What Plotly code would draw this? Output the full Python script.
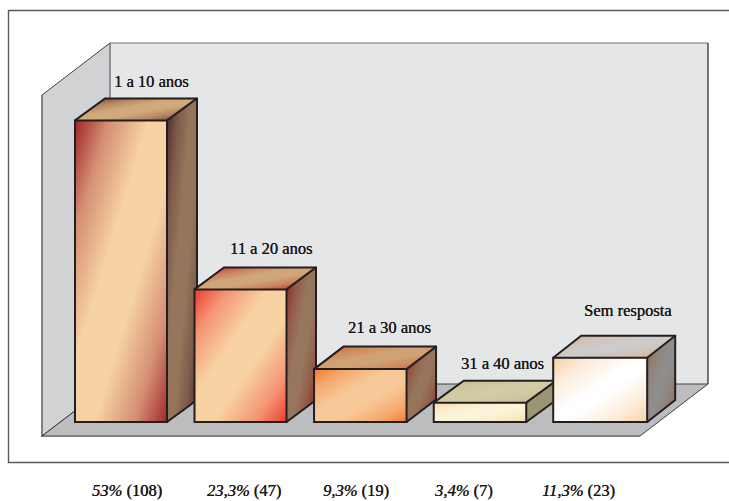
import numpy as np
import plotly.graph_objects as go

# Survey results: time bands, share of answers (%) and number of answers
CATEGORIES = ["1 a 10 anos", "11 a 20 anos", "21 a 30 anos", "31 a 40 anos", "Sem resposta"]
PERCENTS = [53, 23.3, 9.3, 3.4, 11.3]
COUNTS = [108, 47, 19, 7, 23]

# Drawing scale: pixels per category slot and per percentage point
SLOT_PX = 119.5
UNIT_PX = 5.69
ORIGIN_X = 121.0
ORIGIN_Y = 422.0
W, H = 729, 501


def X(px):
    return (px - ORIGIN_X) / SLOT_PX


def Y(py):
    return (ORIGIN_Y - py) / UNIT_PX


BAR_W = [92, 92, 92.5, 92.5, 94]
DEPTH_X = [30, 29.5, 29.5, 30, 28]
DEPTH_Y = [22, 22, 22.5, 22, 22]
BAR_NUDGE = [0, 0, 0.3, 0.5, 1.2]
LABEL_NUDGE = [(30, 17), (30.5, 19), (29, 19), (23, 17), (28.5, 25)]
FOOT_X = [127, 244, 356, 463, 578]

# Shading per bar: (edge colour, middle colour)
FRONT = [("#A0262A", "#F7D3A3"), ("#EF3A30", "#F7D2A2"), ("#F47A30", "#F7C998"),
         ("#F8DCA8", "#FBF4D8"), ("#F8CFA3", "#FFFFFF")]
SIDE = [("#54302E", "#96765B"), ("#8E2E28", "#96775C"), ("#92423A", "#96755A"),
        ("#9A9572", "#9A9572"), ("#957361", "#8E8E8E")]
TOP = [("#8A5540", "#D2A97B"), ("#C8463A", "#CFA67A"), ("#D0703E", "#CFA274"),
       ("#C9BC8E", "#D1CBA6"), ("#D8B59C", "#CCCCCC")]
BAND = [(0.4, 0.6), (0.4, 0.6), (0.4, 0.6), (0.42, 0.58), (0.46, 0.56)]

INK = "#231F20"
GREY_LINE = "#808285"
LABEL_FONT = dict(family="Liberation Serif", size=16.5, color="#1A1718",
                  shadow="0.3px 0 0 #1A1718")

fig = go.Figure()


def poly(xs, ys, color):
    fig.add_trace(go.Scatter(x=xs, y=ys, fill="toself", fillcolor=color, mode="none",
                             hoverinfo="skip", showlegend=False))


def stroke(xs, ys, color, width, xa="x", ya="y"):
    fig.add_trace(go.Scatter(x=xs, y=ys, mode="lines", xaxis=xa, yaxis=ya,
                             line=dict(color=color, width=width), hoverinfo="skip",
                             showlegend=False))


# Page frame
stroke([X(729), X(8.5), X(8.5), X(729)], [Y(10.5), Y(10.5), Y(462.5), Y(462.5)], "#58595B", 1.4)

# Room: back wall, left wall and floor
poly([X(110), X(708), X(708), X(110)], [Y(43), Y(43), Y(384), Y(384)], "#E5E6E8")
poly([X(42), X(110), X(110), X(42)], [Y(95), Y(43), Y(384), Y(436)], "#D1D2D4")
poly([X(42), X(110), X(708), X(640)], [Y(436), Y(384), Y(384), Y(436)], "#BBBDBF")
stroke([X(110), X(708)], [Y(43), Y(43)], "#6D6E71", 1.2)
stroke([X(708), X(708)], [Y(43), Y(384)], INK, 1.2)
stroke([X(110), X(110)], [Y(43), Y(384)], "#6D6E71", 1.4)
stroke([X(42), X(110)], [Y(95), Y(43)], "#414042", 1)
stroke([X(42), X(42), X(640)], [Y(95), Y(436), Y(436)], GREY_LINE, 2)
stroke([X(42), X(110)], [Y(436), Y(384)], INK, 1)
stroke([X(640), X(708), X(110)], [Y(436), Y(384), Y(384)], "#414042", 1)


def blend(a, b, f):
    """Colour a fraction f of the way from hex a to hex b."""
    ca = [int(a[k:k + 2], 16) for k in (1, 3, 5)]
    cb = [int(b[k:k + 2], 16) for k in (1, 3, 5)]
    r, g, bl = [round(p + (q - p) * f) for p, q in zip(ca, cb)]
    return f"rgb({r},{g},{bl})"


def shade(u, v, xs, ys, colors, band, xa, ya):
    """Diagonal sheen over a face given its u, v coordinates (NaN outside the face)."""
    t = (u + v) / 2
    t[(u < 0) | (u > 1) | (v < 0) | (v > 1)] = np.nan
    edge, mid = colors
    # The edge colour falls off quickly, then eases into the middle colour
    knee = blend(edge, mid, 0.6)
    scale = [[0, edge], [band[0] * 0.45, knee], [band[0], mid],
             [band[1], mid], [1 - band[0] * 0.45, knee], [1, edge]]
    fig.add_trace(go.Heatmap(x=xs, y=ys, z=t, zmin=0, zmax=1, colorscale=scale, showscale=False,
                             hoverinfo="skip", xaxis=xa, yaxis=ya))


# Each bar sits on its own overlaid axes so nearer bars cover farther ones
for i, value in enumerate(PERCENTS):
    n = i + 2
    xa, ya = f"x{n}", f"y{n}"
    centre = i + BAR_NUDGE[i] / SLOT_PX
    half = BAR_W[i] / SLOT_PX / 2
    left, right = centre - half, centre + half
    dx, dy = DEPTH_X[i] / SLOT_PX, DEPTH_Y[i] / UNIT_PX
    px_x, px_y = 1 / SLOT_PX, 1 / UNIT_PX

    # Front face sheen
    xs = np.arange(left, right + px_x, px_x)
    ys = np.arange(0, value + px_y, px_y)
    gx, gy = np.meshgrid(xs, ys)
    shade((gx - left) / (right - left), 1 - gy / value, xs, ys, FRONT[i], BAND[i], xa, ya)

    # Right side face, skewed upwards with depth
    xs = np.arange(right, right + dx + px_x, px_x)
    ys = np.arange(0, value + dy + px_y, px_y)
    gx, gy = np.meshgrid(xs, ys)
    u = (gx - right) / dx
    shade(u, 1 - (gy - u * dy) / value, xs, ys, SIDE[i], BAND[i], xa, ya)

    # Top face, skewed sideways with depth
    xs = np.arange(left, right + dx + px_x, px_x)
    ys = np.arange(value, value + dy + px_y, px_y)
    gx, gy = np.meshgrid(xs, ys)
    w = (gy - value) / dy
    shade((gx - left - w * dx) / (right - left), 1 - w, xs, ys, TOP[i], BAND[i], xa, ya)

    # The bar itself supplies the outlined front face
    fig.add_trace(go.Bar(x=[centre], y=[value], width=BAR_W[i] / SLOT_PX, xaxis=xa, yaxis=ya,
                         name=CATEGORIES[i], marker=dict(color="rgba(0,0,0,0)",
                                                         line=dict(color=INK, width=2)),
                         hovertemplate="%{y}%<extra>" + CATEGORIES[i] + "</extra>",
                         showlegend=False))

    # Receding edges of the box
    stroke([left, left + dx, right + dx, right + dx, right],
           [value, value + dy, value + dy, dy, 0], INK, 2, xa, ya)
    stroke([right, right + dx], [value, value + dy], INK, 2, xa, ya)

# Category name above each bar, percentage and count under the chart
annotations = []
for i, value in enumerate(PERCENTS):
    nudge_x, nudge_y = LABEL_NUDGE[i]
    annotations.append(dict(x=i + nudge_x / SLOT_PX, y=value + DEPTH_Y[i] / UNIT_PX + nudge_y / UNIT_PX,
                            text=CATEGORIES[i], showarrow=False, xref="x", yref="y", font=LABEL_FONT))
    share = f"{value:g}".replace(".", ",")
    annotations.append(dict(x=X(FOOT_X[i]), y=Y(490.5), text=f"<i>{share}%</i> ({COUNTS[i]})",
                            showarrow=False, xref="x", yref="y", font=LABEL_FONT))

x_range = [X(0), X(W)]
y_range = [Y(H), Y(0)]
hidden = dict(visible=False, fixedrange=True)
layout = dict(width=W, height=H, margin=dict(l=0, r=0, t=0, b=0), paper_bgcolor="white",
              plot_bgcolor="white", showlegend=False, annotations=annotations,
              xaxis=dict(range=x_range, domain=[0, 1], **hidden),
              yaxis=dict(range=y_range, domain=[0, 1], **hidden))
for i in range(len(PERCENTS)):
    n = i + 2
    layout[f"xaxis{n}"] = dict(range=x_range, overlaying="x", anchor=f"y{n}", **hidden)
    layout[f"yaxis{n}"] = dict(range=y_range, overlaying="y", anchor=f"x{n}", **hidden)
fig.update_layout(**layout)

fig.write_html("out.html", config=dict(displayModeBar=False))
